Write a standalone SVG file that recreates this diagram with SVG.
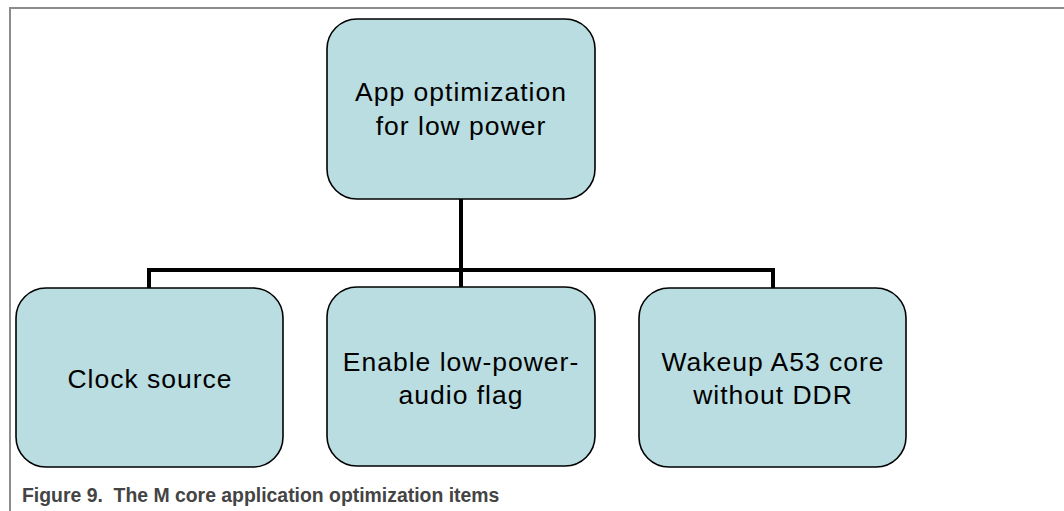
<svg xmlns="http://www.w3.org/2000/svg" width="1064" height="511" viewBox="0 0 1064 511">
<style>
.box{fill:#b9dde1;stroke:#000;stroke-width:1.6}
.lbl{font-family:"Liberation Sans",Arial,sans-serif;font-size:26.5px;letter-spacing:1px;fill:#000;text-anchor:middle}
.conn{fill:none;stroke:#000;stroke-width:4;stroke-linejoin:miter}
.frame{fill:none;stroke:#8c8c8c;stroke-width:2}
.cap{font-family:"Liberation Sans",Arial,sans-serif;font-size:19.4px;font-weight:bold;fill:#444}
</style>
<rect width="1064" height="511" fill="#fff"/>
<path class="frame" d="M10,511 V8 H1064"/>
<g id="connectors">
<path class="conn" d="M461,199 V287"/>
<path class="conn" d="M149,288 V270 H773 V288"/>
</g>
<g id="root">
<rect class="box" x="327" y="19" width="268" height="180" rx="30" ry="30"/>
<text class="lbl" x="461" y="101">App optimization</text>
<text class="lbl" x="461" y="135">for low power</text>
</g>
<g id="clock">
<rect class="box" x="16" y="288" width="267" height="179" rx="30" ry="30"/>
<text class="lbl" x="150" y="388">Clock source</text>
</g>
<g id="enable">
<rect class="box" x="327" y="287" width="268" height="179" rx="30" ry="30"/>
<text class="lbl" x="461" y="371">Enable low-power-</text>
<text class="lbl" x="461" y="404">audio flag</text>
</g>
<g id="wakeup">
<rect class="box" x="639" y="288" width="267" height="179" rx="30" ry="30"/>
<text class="lbl" x="773" y="371">Wakeup A53 core</text>
<text class="lbl" x="773" y="404">without DDR</text>
</g>
<text class="cap" x="22" y="502" xml:space="preserve">Figure 9.  The M core application optimization items</text>
</svg>
